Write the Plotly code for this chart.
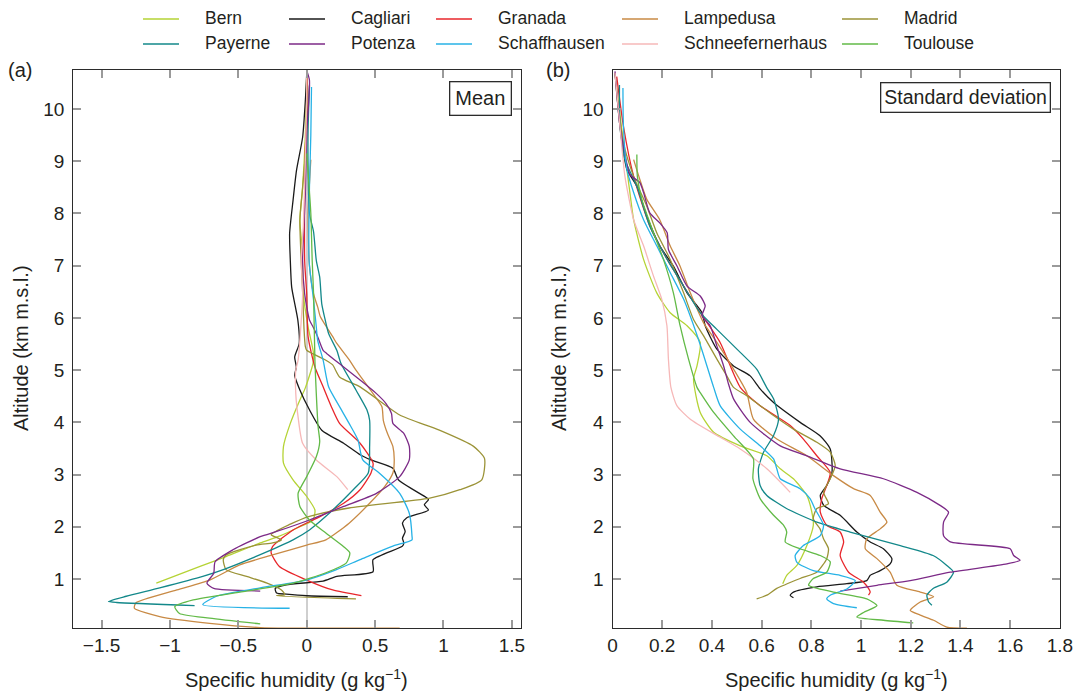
import plotly.graph_objects as go

W, H = 1078, 691

STATIONS = ["Bern", "Cagliari", "Granada", "Lampedusa", "Madrid",
            "Payerne", "Potenza", "Schaffhausen", "Schneefernerhaus", "Toulouse"]
COLORS = ["#b5d335", "#1a1a1a", "#e8262b", "#c88a45", "#9b9337",
          "#13888a", "#7c2a87", "#27b2e6", "#f6b8b8", "#62ba47"]

X_TICKS_A = [-1.5, -1, -0.5, 0, 0.5, 1, 1.5]
X_TICKS_B = [0, 0.2, 0.4, 0.6, 0.8, 1, 1.2, 1.4, 1.6, 1.8]
Y_TICKS = [1, 2, 3, 4, 5, 6, 7, 8, 9, 10]

# ---------------- Mean profiles (specific humidity, g/kg ; altitude km) ----------------
BERN_MEAN_Z = [10.7, 9.5, 8.5, 7.87, 7.36, 6.46, 5.83, 5.32, 5.13, 4.66, 4.43, 3.98, 3.54, 3.22, 2.9, 2.58, 2.32, 2.13, 2.0, 1.82, 1.69, 1.43, 1.24, 0.92]
BERN_MEAN_Q = [0.0, -0.01, -0.03, -0.05, -0.035, -0.025, 0.01, 0.05, 0.046, -0.01, -0.05, -0.12, -0.17, -0.17, -0.1, 0.0, 0.06, 0.046, -0.05, -0.2, -0.34, -0.59, -0.78, -1.1]

CAGLIARI_MEAN_Z = [10.67, 10.16, 9.46, 8.82, 8.25, 7.62, 7.1, 6.59, 5.96, 5.51, 5.25, 5.06, 4.9, 4.62, 4.24, 3.85, 3.6, 3.38, 3.28, 3.12, 2.9, 2.55, 2.52, 2.42, 2.32, 2.17, 2.07, 1.91, 1.78, 1.69, 1.63, 1.37, 1.14, 1.05, 0.96, 0.89, 0.82, 0.73, 0.71, 0.68, 0.66]
CAGLIARI_MEAN_Q = [0.0, -0.01, -0.03, -0.075, -0.1, -0.125, -0.12, -0.11, -0.065, -0.055, -0.088, -0.076, -0.088, -0.05, 0.02, 0.11, 0.27, 0.39, 0.47, 0.63, 0.67, 0.88, 0.89, 0.86, 0.89, 0.73, 0.7, 0.72, 0.7, 0.71, 0.7, 0.485, 0.485, 0.22, 0.12, -0.15, -0.23, -0.22, -0.15, 0.0, 0.3]

GRANADA_MEAN_Z = [10.7, 10.16, 9.27, 7.1, 6.46, 5.64, 5.06, 4.68, 4.3, 3.98, 3.6, 3.22, 3.03, 2.71, 2.45, 2.2, 1.94, 1.62, 1.5, 1.24, 0.98, 0.79, 0.68]
GRANADA_MEAN_Q = [0.0, 0.01, -0.01, -0.015, 0.0, 0.01, 0.06, 0.12, 0.18, 0.24, 0.39, 0.485, 0.47, 0.39, 0.27, 0.1, -0.1, -0.25, -0.26, -0.2, 0.0, 0.19, 0.4]

LAMPEDUSA_MEAN_Z = [9.03, 8.0, 7.0, 6.46, 6.21, 6.02, 5.64, 5.51, 5.2, 5.0, 4.55, 4.3, 4.04, 3.79, 3.54, 3.28, 3.03, 2.77, 2.45, 2.07, 1.75, 1.65, 1.46, 1.27, 0.98, 0.79, 0.54, 0.44, 0.28, 0.15, 0.07, 0.06]
LAMPEDUSA_MEAN_Q = [0.03, 0.01, 0.02, 0.05, 0.08, 0.1, 0.19, 0.22, 0.31, 0.36, 0.485, 0.55, 0.56, 0.59, 0.63, 0.64, 0.63, 0.57, 0.46, 0.31, 0.14, 0.0, -0.25, -0.49, -0.71, -0.95, -1.25, -1.26, -1.075, -0.71, -0.34, 0.68]

MADRID_MEAN_Z = [10.6, 9.5, 8.5, 7.87, 6.5, 5.8, 5.45, 5.38, 5.19, 5.1, 4.87, 4.68, 4.14, 3.85, 3.54, 3.31, 2.9, 2.71, 2.55, 2.36, 2.2, 2.05, 1.85, 1.75, 1.69, 1.65, 1.46, 1.37, 1.18, 1.05, 0.92, 0.79, 0.7, 0.68, 0.62]
MADRID_MEAN_Q = [0.0, 0.0, -0.03, -0.05, -0.03, -0.02, -0.01, 0.0, 0.14, 0.19, 0.24, 0.39, 0.68, 0.97, 1.22, 1.3, 1.28, 1.12, 0.9, 0.31, 0.02, -0.12, -0.26, -0.185, -0.25, -0.37, -0.59, -0.61, -0.59, -0.44, -0.29, -0.185, -0.16, -0.22, 0.36]

PAYERNE_MEAN_Z = [10.45, 9.6, 8.9, 8.0, 7.65, 7.1, 6.78, 6.27, 6.02, 5.7, 5.38, 5.13, 4.62, 4.24, 4.04, 3.54, 3.03, 2.71, 2.2, 1.94, 1.75, 1.5, 1.18, 1.05, 0.83, 0.67, 0.57, 0.55, 0.49]
PAYERNE_MEAN_Q = [0.02, 0.01, 0.01, 0.02, 0.05, 0.07, 0.095, 0.11, 0.13, 0.16, 0.22, 0.25, 0.36, 0.44, 0.46, 0.46, 0.45, 0.34, 0.14, 0.02, -0.1, -0.31, -0.61, -0.76, -1.075, -1.32, -1.45, -1.39, -0.82]

POTENZA_MEAN_Z = [10.74, 10.55, 9.53, 8.38, 7.1, 6.46, 5.96, 5.83, 5.64, 5.38, 5.32, 5.06, 4.81, 4.55, 4.36, 4.17, 3.98, 3.79, 3.54, 3.28, 2.96, 2.64, 2.39, 2.13, 1.91, 1.81, 1.56, 1.33, 1.11, 0.92, 0.82, 0.77]
POTENZA_MEAN_Q = [0.0, 0.02, 0.0, -0.01, -0.03, -0.015, 0.02, 0.046, 0.08, 0.12, 0.145, 0.27, 0.39, 0.51, 0.58, 0.62, 0.63, 0.71, 0.75, 0.75, 0.68, 0.51, 0.27, 0.02, -0.22, -0.34, -0.54, -0.67, -0.68, -0.73, -0.68, -0.34]

SCHAFFHAUSEN_MEAN_Z = [10.42, 9.5, 8.5, 7.1, 6.34, 5.83, 5.57, 5.19, 4.68, 4.3, 3.98, 3.66, 3.28, 3.03, 2.64, 2.26, 1.82, 1.75, 1.63, 1.37, 1.15, 0.98, 0.83, 0.67, 0.51, 0.44]
SCHAFFHAUSEN_MEAN_Q = [0.035, 0.03, 0.02, 0.017, 0.05, 0.07, 0.08, 0.12, 0.16, 0.24, 0.31, 0.375, 0.41, 0.53, 0.68, 0.75, 0.77, 0.77, 0.63, 0.39, 0.19, 0.0, -0.34, -0.66, -0.76, -0.125]

SCHNEE_MEAN_Z = [10.6, 10.3, 9.03, 7.74, 7.1, 6.46, 5.96, 5.19, 5.0, 4.55, 4.1, 3.6, 3.28, 2.96, 2.71]
SCHNEE_MEAN_Q = [0.0, 0.0, -0.01, -0.025, -0.04, -0.03, -0.04, -0.063, -0.08, -0.08, -0.063, -0.03, 0.07, 0.22, 0.3]

TOULOUSE_MEAN_Z = [9.15, 8.0, 7.1, 6.46, 5.17, 4.55, 3.92, 3.63, 3.34, 2.96, 2.64, 2.39, 2.13, 1.88, 1.62, 1.5, 1.31, 1.12, 0.92, 0.76, 0.6, 0.47, 0.34, 0.25, 0.14]
TOULOUSE_MEAN_Q = [0.0, 0.03, 0.04, 0.05, 0.06, 0.07, 0.083, 0.095, 0.07, 0.0, -0.063, -0.05, 0.02, 0.14, 0.27, 0.315, 0.29, 0.14, -0.1, -0.465, -0.83, -0.965, -0.93, -0.71, -0.34]

# ---------------- Standard deviation profiles ----------------
BERN_SD_Z = [10.69, 9.35, 8.4, 7.88, 7.12, 6.48, 6.1, 5.85, 5.53, 5.08, 4.83, 4.19, 3.81, 3.55, 3.36, 3.11, 2.92, 2.6, 2.28, 2.03, 1.64, 1.26, 1.07, 0.91]
BERN_SD_Q = [0.01, 0.044, 0.07, 0.085, 0.125, 0.178, 0.232, 0.3, 0.353, 0.34, 0.326, 0.353, 0.407, 0.514, 0.621, 0.675, 0.728, 0.782, 0.802, 0.808, 0.782, 0.742, 0.701, 0.685]

CAGLIARI_SD_Z = [10.69, 9.67, 8.84, 8.52, 7.95, 7.38, 6.99, 6.48, 6.1, 5.85, 5.4, 5.08, 4.89, 4.64, 4.38, 4.0, 3.74, 3.49, 3.04, 2.79, 2.6, 2.41, 2.22, 1.9, 1.71, 1.58, 1.39, 1.29, 1.16, 1.07, 0.97, 0.91, 0.85, 0.75, 0.69, 0.64]
CAGLIARI_SD_Q = [0.01, 0.03, 0.058, 0.098, 0.138, 0.19, 0.245, 0.3, 0.36, 0.373, 0.42, 0.487, 0.554, 0.594, 0.648, 0.755, 0.836, 0.876, 0.883, 0.862, 0.836, 0.85, 0.916, 0.983, 1.037, 1.09, 1.124, 1.117, 1.077, 1.037, 1.023, 0.943, 0.822, 0.728, 0.715, 0.728]

GRANADA_SD_Z = [10.62, 9.67, 8.71, 7.76, 7.12, 6.61, 6.1, 5.53, 4.67, 4.32, 3.94, 3.68, 3.36, 3.04, 2.79, 2.54, 2.28, 2.03, 1.9, 1.71, 1.45, 1.13, 0.94, 0.82, 0.75, 0.69]
GRANADA_SD_Q = [0.017, 0.044, 0.085, 0.15, 0.22, 0.286, 0.353, 0.433, 0.514, 0.594, 0.715, 0.768, 0.822, 0.876, 0.862, 0.842, 0.836, 0.862, 0.916, 0.93, 0.916, 0.95, 1.01, 1.03, 1.037, 1.03]

LAMPEDUSA_SD_Z = [9.03, 8.65, 8.27, 7.88, 7.38, 6.99, 6.48, 5.91, 5.53, 5.02, 4.57, 4.06, 3.68, 3.36, 2.98, 2.73, 2.6, 2.28, 2.09, 1.96, 1.77, 1.58, 1.39, 1.13, 0.88, 0.75, 0.66, 0.56, 0.4, 0.31, 0.21, 0.08, 0.06]
LAMPEDUSA_SD_Q = [0.085, 0.11, 0.138, 0.19, 0.232, 0.272, 0.313, 0.366, 0.42, 0.487, 0.54, 0.567, 0.661, 0.782, 0.889, 0.97, 1.037, 1.077, 1.104, 1.077, 1.023, 1.017, 1.064, 1.117, 1.144, 1.238, 1.292, 1.238, 1.198, 1.238, 1.292, 1.345, 1.426]

MADRID_SD_Z = [10.3, 9.35, 8.71, 8.14, 7.63, 7.12, 6.48, 5.97, 5.66, 5.21, 4.89, 4.67, 4.51, 4.13, 3.87, 3.62, 3.43, 3.17, 2.92, 2.66, 2.44, 2.35, 2.15, 1.96, 1.77, 1.58, 1.39, 1.13, 1.01, 0.82, 0.69, 0.62]
MADRID_SD_Q = [0.017, 0.044, 0.085, 0.138, 0.178, 0.232, 0.286, 0.326, 0.366, 0.42, 0.46, 0.487, 0.54, 0.648, 0.728, 0.822, 0.876, 0.896, 0.876, 0.849, 0.869, 0.822, 0.808, 0.835, 0.849, 0.869, 0.862, 0.822, 0.755, 0.661, 0.621, 0.58]

PAYERNE_SD_Z = [10.46, 9.67, 9.03, 8.52, 7.76, 7.12, 6.61, 6.1, 5.78, 5.34, 5.02, 4.67, 4.45, 4.06, 3.75, 3.43, 3.11, 2.79, 2.6, 2.35, 2.09, 1.9, 1.64, 1.45, 1.26, 1.13, 0.94, 0.82, 0.69, 0.56, 0.5]
PAYERNE_SD_Q = [0.028, 0.03, 0.05, 0.098, 0.15, 0.22, 0.286, 0.353, 0.42, 0.514, 0.58, 0.62, 0.648, 0.668, 0.648, 0.608, 0.587, 0.594, 0.621, 0.7, 0.822, 0.956, 1.158, 1.29, 1.345, 1.372, 1.345, 1.29, 1.265, 1.272, 1.285]

POTENZA_SD_Z = [10.72, 9.67, 9.29, 8.75, 8.59, 8.4, 8.01, 7.82, 7.63, 7.31, 6.99, 6.61, 6.42, 6.23, 6.04, 5.85, 5.46, 5.08, 4.73, 4.45, 4.0, 3.55, 3.36, 3.11, 2.92, 2.66, 2.41, 2.28, 2.09, 1.83, 1.71, 1.58, 1.45, 1.36, 1.29, 1.13, 0.97, 0.88, 0.77]
POTENZA_SD_Q = [0.01, 0.03, 0.044, 0.07, 0.11, 0.125, 0.15, 0.19, 0.22, 0.225, 0.26, 0.3, 0.353, 0.373, 0.36, 0.393, 0.42, 0.447, 0.467, 0.487, 0.554, 0.675, 0.782, 0.916, 1.09, 1.225, 1.318, 1.352, 1.332, 1.332, 1.359, 1.6, 1.614, 1.64, 1.587, 1.359, 1.198, 1.064, 0.916]

SCHAFFHAUSEN_SD_Z = [10.4, 9.67, 8.84, 8.4, 7.88, 7.38, 6.87, 6.36, 5.53, 4.67, 4.32, 3.87, 3.55, 3.3, 3.11, 2.92, 2.73, 2.54, 2.34, 2.03, 1.83, 1.64, 1.45, 1.32, 1.16, 1.07, 0.97, 0.81, 0.69, 0.62, 0.53, 0.45]
SCHAFFHAUSEN_SD_Q = [0.042, 0.044, 0.058, 0.085, 0.125, 0.178, 0.232, 0.286, 0.35, 0.407, 0.433, 0.514, 0.594, 0.648, 0.661, 0.675, 0.755, 0.795, 0.815, 0.849, 0.836, 0.768, 0.735, 0.742, 0.808, 0.916, 0.977, 0.943, 0.876, 0.862, 0.889, 0.983]

SCHNEE_SD_Z = [10.69, 9.67, 8.71, 7.88, 7.38, 6.8, 6.36, 5.85, 5.21, 4.67, 4.32, 4.06, 3.75, 3.49, 3.11, 2.66]
SCHNEE_SD_Q = [0.01, 0.03, 0.05, 0.085, 0.125, 0.165, 0.198, 0.219, 0.225, 0.235, 0.259, 0.313, 0.42, 0.514, 0.621, 0.715]

TOULOUSE_SD_Z = [9.13, 8.71, 8.27, 7.63, 7.12, 6.48, 5.85, 5.21, 4.67, 4.57, 4.19, 3.74, 3.3, 2.92, 2.54, 2.22, 2.03, 1.9, 1.71, 1.58, 1.45, 1.33, 1.13, 1.01, 0.88, 0.75, 0.62, 0.49, 0.36, 0.27, 0.21, 0.16]
TOULOUSE_SD_Q = [0.098, 0.1, 0.118, 0.165, 0.205, 0.245, 0.272, 0.306, 0.34, 0.353, 0.407, 0.487, 0.567, 0.565, 0.594, 0.648, 0.688, 0.701, 0.695, 0.755, 0.836, 0.876, 0.862, 0.808, 0.789, 0.889, 1.023, 1.064, 1.01, 0.983, 1.09, 1.21]

MEAN = [(BERN_MEAN_Q, BERN_MEAN_Z), (CAGLIARI_MEAN_Q, CAGLIARI_MEAN_Z), (GRANADA_MEAN_Q, GRANADA_MEAN_Z),
        (LAMPEDUSA_MEAN_Q, LAMPEDUSA_MEAN_Z), (MADRID_MEAN_Q, MADRID_MEAN_Z), (PAYERNE_MEAN_Q, PAYERNE_MEAN_Z),
        (POTENZA_MEAN_Q, POTENZA_MEAN_Z), (SCHAFFHAUSEN_MEAN_Q, SCHAFFHAUSEN_MEAN_Z), (SCHNEE_MEAN_Q, SCHNEE_MEAN_Z),
        (TOULOUSE_MEAN_Q, TOULOUSE_MEAN_Z)]
SD = [(BERN_SD_Q, BERN_SD_Z), (CAGLIARI_SD_Q, CAGLIARI_SD_Z), (GRANADA_SD_Q, GRANADA_SD_Z),
      (LAMPEDUSA_SD_Q, LAMPEDUSA_SD_Z), (MADRID_SD_Q, MADRID_SD_Z), (PAYERNE_SD_Q, PAYERNE_SD_Z),
      (POTENZA_SD_Q, POTENZA_SD_Z), (SCHAFFHAUSEN_SD_Q, SCHAFFHAUSEN_SD_Z), (SCHNEE_SD_Q, SCHNEE_SD_Z),
      (TOULOUSE_SD_Q, TOULOUSE_SD_Z)]

FONT = "Liberation Sans, Arial, Helvetica, sans-serif"
TXT = "#231f20"

fig = go.Figure()
for i, name in enumerate(STATIONS):
    q, z = MEAN[i]
    fig.add_trace(go.Scatter(x=q, y=z, mode="lines", name=name, showlegend=False,
                             line=dict(color=COLORS[i], width=1.3, shape="spline", smoothing=0.6),
                             xaxis="x", yaxis="y"))
for i, name in enumerate(STATIONS):
    q, z = SD[i]
    fig.add_trace(go.Scatter(x=q, y=z, mode="lines", name=name, showlegend=False,
                             line=dict(color=COLORS[i], width=1.3, shape="spline", smoothing=0.6),
                             xaxis="x2", yaxis="y2"))

def px(x):
    return x / W

def py(y):
    return 1 - y / H

YDOM = [py(628), py(70)]
axis_common = dict(showgrid=False, showline=True, linecolor="#2b2b2b", linewidth=1.3,
                   mirror="ticks", ticks="inside", ticklen=8, tickcolor="#9a9a9a", tickwidth=1.5,
                   tickfont=dict(family=FONT, size=19, color=TXT), automargin=False)

fig.update_layout(
    width=W, height=H,
    margin=dict(l=0, r=0, t=0, b=0),
    paper_bgcolor="white", plot_bgcolor="white",
    showlegend=False,
    xaxis=dict(domain=[px(73.3), px(521)], range=[-1.707, 1.567], tickvals=X_TICKS_A,
               zeroline=True, zerolinecolor="#cfcfcf", zerolinewidth=2,
               anchor="y", ticklabelstandoff=0, **axis_common),
    yaxis=dict(domain=YDOM, range=[0.062, 10.747], tickvals=Y_TICKS, zeroline=False,
               anchor="x", ticklabelstandoff=4, **axis_common),
    xaxis2=dict(domain=[px(612.5), px(1060)], range=[0, 1.8005], tickvals=X_TICKS_B,
                zeroline=False, anchor="y2", ticklabelstandoff=0, **axis_common),
    yaxis2=dict(domain=YDOM, range=[0.062, 10.747], tickvals=Y_TICKS, zeroline=False,
                anchor="x2", ticklabelstandoff=4, **axis_common),
)

def label(text, x, y, size=20, angle=0, xa="center", ya="middle", **kw):
    d = dict(text=text, x=px(x), y=py(y), xref="paper", yref="paper", showarrow=False,
             xanchor=xa, yanchor=ya, textangle=angle, font=dict(family=FONT, size=size, color=TXT))
    d.update(kw)
    return d

ann = []
ann.append(label("(a)", 20, 70))
ann.append(label("(b)", 558, 70))
for cx in (21, 559):
    ann.append(label("Altitude (km m.s.l.)", cx, 348, angle=-90))
for cx in (296, 836):
    ann.append(label("Specific humidity (g kg<sup>\u22121</sup>)", cx, 678))
ann.append(label("Mean", 512, 81, xa="right", ya="top", bordercolor="#2b2b2b", borderwidth=1.3,
                 borderpad=5, bgcolor="white"))
ann.append(label("Standard deviation", 1051, 82, size=19.5, xa="right", ya="top",
                 bordercolor="#2b2b2b", borderwidth=1.3, borderpad=3, bgcolor="white"))

# manual legend (5 columns x 2 rows)
COL_LINE_X = [143, 289, 436, 622, 842]
ROW_Y = [18, 43]
shapes = []
for i, name in enumerate(STATIONS):
    r, c = divmod(i, 5)
    x0 = COL_LINE_X[c]
    yy = ROW_Y[r]
    shapes.append(dict(type="line", xref="paper", yref="paper", x0=px(x0), x1=px(x0 + 36),
                       y0=py(yy + 1), y1=py(yy + 1), line=dict(color=COLORS[i], width=1.5)))
    ann.append(label(name, x0 + 60, yy, size=17.5, xa="left"))

fig.update_layout(annotations=ann, shapes=shapes)
fig.write_html("out.html", config={"displayModeBar": False},
               post_script="document.body.style.margin='0';document.body.style.overflow='hidden';")
